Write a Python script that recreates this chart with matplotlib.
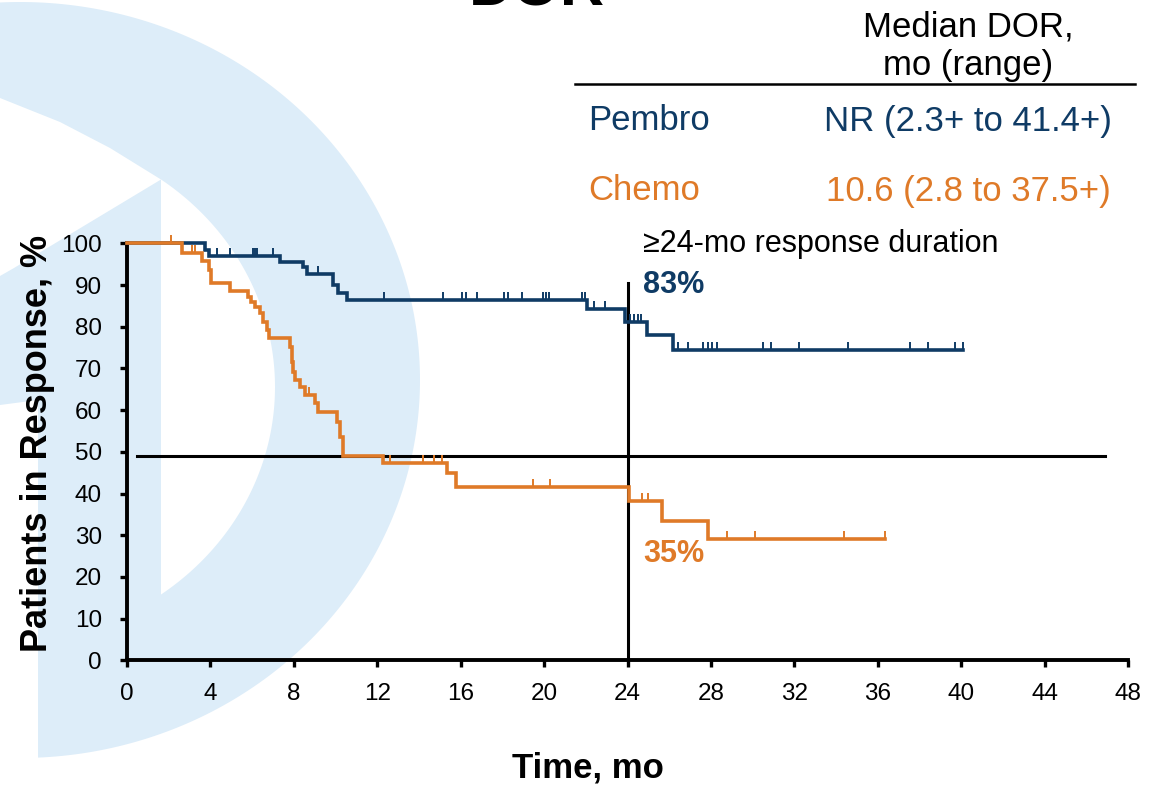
import numpy as np
import matplotlib
matplotlib.use('Agg')
import matplotlib.pyplot as plt
from matplotlib.patches import Polygon
from matplotlib.path import Path

plt.rcParams['font.family'] = ['Liberation Sans', 'DejaVu Sans']

NAVY = '#0F3B65'
ORANGE = '#DF7A28'
WM = '#DDEDF9'

# ---------------- data ----------------
x_ticks = list(range(0, 49, 4))
y_ticks = list(range(0, 101, 10))

pembro_event_t = [0, 3.74, 3.95, 7.34, 8.42, 8.62, 9.89, 10.13, 10.54, 22.05, 23.88, 24.93, 26.17]
pembro_surv = [100, 98.5, 97.0, 95.6, 94.3, 92.7, 90.1, 88.0, 86.4, 84.2, 81.2, 78.0, 74.4]
pembro_end = 40.1
pembro_cens = [4.3, 4.94, 6.05, 6.15, 6.25, 7.0, 9.17, 12.3, 15.17, 16.05, 16.24, 16.77,
               18.1, 18.25, 18.93, 19.95, 20.1, 20.25, 21.8, 21.97, 22.37, 22.93,
               24.1, 24.3, 24.5, 24.65, 26.4, 26.92, 27.64, 27.85, 28.05, 28.28,
               30.52, 30.87, 32.2, 34.55, 37.55, 38.43, 39.7, 40.1]

chemo_event_t = [0, 2.62, 3.58, 3.95, 4.05, 4.94, 5.82, 5.97, 6.13, 6.37, 6.53, 6.70, 6.83,
                 7.82, 7.90, 7.98, 8.06, 8.30, 8.54, 9.02, 9.18, 10.06, 10.22, 10.35,
                 12.29, 15.36, 15.78, 24.05, 25.64, 27.88]
chemo_surv = [100, 97.7, 95.7, 93.6, 90.4, 88.6, 87.2, 86.0, 84.8, 83.2, 81.2, 79.2, 77.2,
              75.2, 71.6, 69.2, 67.2, 65.6, 63.6, 61.6, 59.6, 57.2, 53.6, 49.0,
              47.4, 45.0, 41.5, 38.3, 33.5, 29.0]
chemo_end = 36.36
chemo_cens = [2.12, 3.1, 3.27, 8.75, 12.62, 14.21, 14.72, 15.09, 19.49, 20.29,
              24.7, 24.98, 28.76, 30.12, 34.39, 36.36]

median_level = 49
landmark_month = 24
landmark_top = 90.4
pembro_landmark_label = '83%'
chemo_landmark_label = '35%'

W, H = 1150, 786
fig = plt.figure(figsize=(W / 100, H / 100), dpi=100)
fig.patch.set_facecolor('white')


def px(pts):
    return [(x / W, 1 - y / H) for x, y in pts]


def add_shape(pts, color, z):
    fig.patches.append(Polygon(px(pts), closed=True, transform=fig.transFigure,
                               facecolor=color, edgecolor='none', zorder=z))


# ---------------- watermark (background logo) ----------------
t = np.linspace(0, 2 * np.pi, 400)
add_shape([(20 + 400 * np.cos(a), 380 - 378 * np.sin(a)) for a in t], WM, -10)
t0 = np.arccos(161 / 275)
tt = np.linspace(-t0, t0, 200)
add_shape([(275 * np.cos(a), 387 - 256 * np.sin(a)) for a in tt], 'white', -9)
add_shape([(0, 98), (60, 122), (110, 148), (161, 179.5), (14, 268), (0, 276)], 'white', -9)
add_shape([(0, 405), (38, 400), (38, 800), (0, 800)], 'white', -9)

# ---------------- axes ----------------
ax = fig.add_axes([127 / W, 1 - 660.3 / H, (1128 - 127) / W, (660.3 - 243.3) / H])
ax.set_facecolor('none')
ax.set_xlim(0, 48)
ax.set_ylim(0, 100)
for s in ['top', 'right']:
    ax.spines[s].set_visible(False)
for s in ['left', 'bottom']:
    ax.spines[s].set_linewidth(2.8)
ax.set_xticks(x_ticks)
ax.set_yticks(y_ticks)
ax.tick_params(axis='both', direction='out', length=5, width=2.4, labelsize=17.5)
ax.tick_params(axis='y', pad=13)
ax.tick_params(axis='x', pad=11)

cens_marker = Path([(0, 0), (0, 1)], [Path.MOVETO, Path.LINETO])


def km(ev_t, surv, end, cens, color):
    xs = list(ev_t) + [end]
    ys = list(surv) + [surv[-1]]
    ax.plot(xs, ys, drawstyle='steps-post', color=color, lw=2.6, clip_on=False, zorder=4,
            solid_joinstyle='miter')
    idx = np.searchsorted(ev_t, cens, side='right') - 1
    cy = np.array(surv)[idx]
    ax.plot(cens, cy, linestyle='none', marker=cens_marker, markersize=12,
            markeredgewidth=1.4, color=color, clip_on=False, zorder=4)


km(pembro_event_t, pembro_surv, pembro_end, pembro_cens, NAVY)
km(chemo_event_t, chemo_surv, chemo_end, chemo_cens, ORANGE)

ax.plot([0.5, 46.9], [median_level, median_level], color='black', lw=2.2, zorder=3)
ax.plot([landmark_month, landmark_month], [0, landmark_top], color='black', lw=2.2, zorder=3)

ax.text(24.75, 99.8, '\u226524-mo response duration', fontsize=22, va='center', ha='left')
ax.text(24.75, 90.0, pembro_landmark_label, fontsize=22, fontweight='bold', color=NAVY,
        va='center', ha='left')
ax.text(24.75, 25.5, chemo_landmark_label, fontsize=22, fontweight='bold', color=ORANGE,
        va='center', ha='left')

fig.text(38 / W, 1 - 443 / H, 'Patients in Response, %', rotation=90, fontsize=26,
         fontweight='bold', ha='center', va='center')
fig.text(588 / W, 1 - 768 / H, 'Time, mo', fontsize=25, fontweight='bold',
         ha='center', va='center')

# ---------------- title & table ----------------
fig.text(537 / W, 1 - 6 / H, 'DOR', fontsize=44, fontweight='bold', ha='center',
         va='baseline')
fig.text(968 / W, 1 - 27 / H, 'Median DOR,', fontsize=25, ha='center', va='center')
fig.text(968 / W, 1 - 66 / H, 'mo (range)', fontsize=25, ha='center', va='center')
fig.add_artist(plt.Line2D([575 / W, 1135 / W], [1 - 84 / H, 1 - 84 / H], color='black',
                          lw=1.8, transform=fig.transFigure))
fig.text(588 / W, 1 - 121 / H, 'Pembro', fontsize=25, color=NAVY, ha='left', va='center')
fig.text(968 / W, 1 - 121 / H, 'NR (2.3+ to 41.4+)', fontsize=25, color=NAVY,
         ha='center', va='center')
fig.text(588 / W, 1 - 191 / H, 'Chemo', fontsize=25, color=ORANGE, ha='left', va='center')
fig.text(968 / W, 1 - 191 / H, '10.6 (2.8 to 37.5+)', fontsize=25, color=ORANGE,
         ha='center', va='center')

fig.savefig('out.png', dpi=100)
